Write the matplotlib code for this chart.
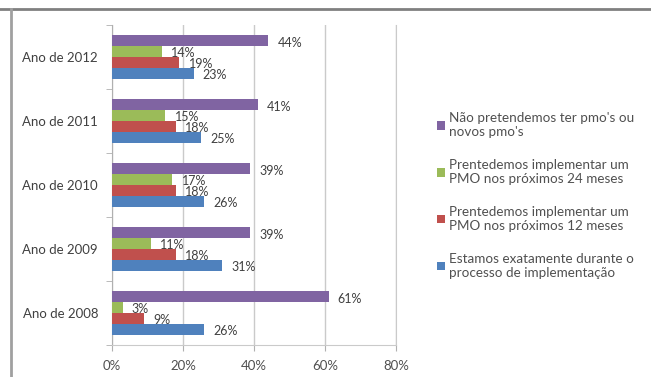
import matplotlib
matplotlib.use("Agg")
import matplotlib.pyplot as plt
from matplotlib.lines import Line2D
from matplotlib.ticker import FixedLocator, FuncFormatter

plt.rcParams['font.family'] = ['Lato', 'DejaVu Sans']

categories = ["Ano de 2008", "Ano de 2009", "Ano de 2010", "Ano de 2011", "Ano de 2012"]
series_names = [
    "Estamos exatamente durante o\nprocesso de implementação",
    "Prentedemos implementar um\nPMO nos próximos 12 meses",
    "Prentedemos implementar um\nPMO nos próximos 24 meses",
    "Não pretendemos ter pmo's ou\nnovos pmo's",
]
blue_vals = [26, 31, 26, 25, 23]
red_vals = [9, 18, 18, 18, 19]
green_vals = [3, 11, 17, 15, 14]
purple_vals = [61, 39, 39, 41, 44]
series_values = [blue_vals, red_vals, green_vals, purple_vals]
colors = ["#4F81BD", "#C0504D", "#9BBB59", "#8064A2"]
xticks = [0, 20, 40, 60, 80]

fig = plt.figure(figsize=(6.51, 3.77), dpi=100)
fig.patch.set_facecolor("white")
ax = fig.add_axes([112/651, 1-345/377, (396-112)/651, (345-25)/377])

h = 0.17
offsets = [-1.5*h, -0.5*h, 0.5*h, 1.5*h]
ypos = list(range(len(categories)))
handles = []
for vals, col, off, name in zip(series_values, colors, offsets, series_names):
    ys = [y + off for y in ypos]
    bars = ax.barh(ys, vals, height=h, color=col, label=name, zorder=3)
    handles.append(bars)
    for y, v in zip(ys, vals):
        ax.text(v + 2.6, y - 0.03, f"{v}%", va="center", ha="left",
                fontsize=9, color="#404040", zorder=4)

ax.set_xlim(0, 80)
ax.set_ylim(-0.5, len(categories) - 0.5)
ax.xaxis.set_major_locator(FixedLocator(xticks))
ax.xaxis.set_major_formatter(FuncFormatter(lambda v, p: f"{int(v)}%"))
ax.set_yticks(ypos)
ax.set_yticklabels(categories)
ax.set_yticks([i - 0.5 for i in range(len(categories) + 1)], minor=True)
ax.tick_params(axis="y", which="major", length=0, pad=10, labelsize=9.5, labelcolor="#404040")
ax.tick_params(axis="y", which="minor", length=4, color="#B0B0B0", direction="out")
ax.tick_params(axis="x", which="major", length=4, color="#B0B0B0", pad=7, labelsize=9.5, labelcolor="#505050")
ax.grid(axis="x", color="#CACACA", linewidth=1, zorder=0)
ax.spines["top"].set_visible(False)
ax.spines["right"].set_color("#CACACA")
ax.spines["left"].set_color("#B0B0B0")
ax.spines["bottom"].set_color("#CACACA")

leg_handles = handles[::-1]
leg_labels = series_names[::-1]
leg = fig.legend(leg_handles, leg_labels, loc="upper left",
                 bbox_to_anchor=(425/651, 1-100/377), frameon=False,
                 fontsize=9.7, handlelength=0.6, handleheight=0.6,
                 handletextpad=0.3, labelspacing=1.55, labelcolor="#505050")

fig.add_artist(Line2D([0, 1], [1-9/377, 1-9/377], color="#808080", linewidth=2, transform=fig.transFigure))
fig.add_artist(Line2D([11/651, 11/651], [0, 1-9/377], color="#A0A0A0", linewidth=2, transform=fig.transFigure))

fig.savefig("out.png", dpi=100)
